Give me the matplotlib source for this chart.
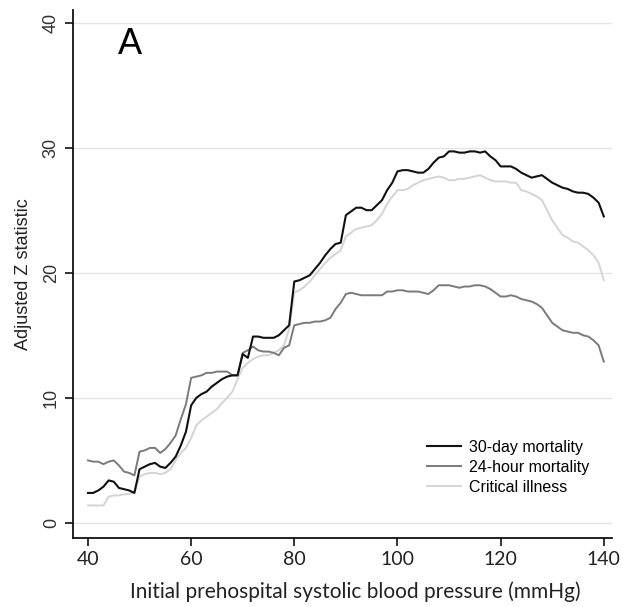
import numpy as np
import matplotlib
matplotlib.use("Agg")
import matplotlib.pyplot as plt

# systolic blood pressure grid (mmHg)
sbp = np.arange(40, 141)

mort_30d = [2.4, 2.4, 2.6, 2.9, 3.4, 3.3, 2.8, 2.7, 2.6, 2.4,
            4.3, 4.5, 4.7, 4.8, 4.5, 4.4, 4.8, 5.3, 6.2, 7.3,
            9.4, 10.0, 10.3, 10.5, 10.9, 11.2, 11.5, 11.7, 11.8, 11.8,
            13.5, 13.2, 14.9, 14.9, 14.8, 14.8, 14.8, 15.0, 15.4, 15.8,
            19.3, 19.4, 19.6, 19.8, 20.3, 20.8, 21.4, 21.9, 22.3, 22.4,
            24.6, 24.9, 25.2, 25.2, 25.0, 25.0, 25.4, 25.8, 26.6, 27.2,
            28.1, 28.2, 28.2, 28.1, 28.0, 28.0, 28.3, 28.8, 29.2, 29.3,
            29.7, 29.7, 29.6, 29.6, 29.7, 29.7, 29.6, 29.7, 29.3, 29.0,
            28.5, 28.5, 28.5, 28.3, 28.0, 27.8, 27.6, 27.7, 27.8, 27.5,
            27.2, 27.0, 26.8, 26.7, 26.5, 26.4, 26.4, 26.3, 26.0, 25.6,
            24.5]

mort_24h = [5.0, 4.9, 4.9, 4.7, 4.9, 5.0, 4.6, 4.1, 4.0, 3.8,
            5.7, 5.8, 6.0, 6.0, 5.6, 5.9, 6.4, 7.0, 8.3, 9.5,
            11.6, 11.7, 11.8, 12.0, 12.0, 12.1, 12.1, 12.1, 11.8, 11.8,
            13.6, 13.8, 14.1, 13.8, 13.7, 13.7, 13.6, 13.4, 14.0, 14.2,
            15.8, 15.9, 16.0, 16.0, 16.1, 16.1, 16.2, 16.4, 17.1, 17.6,
            18.3, 18.4, 18.3, 18.2, 18.2, 18.2, 18.2, 18.2, 18.5, 18.5,
            18.6, 18.6, 18.5, 18.5, 18.5, 18.4, 18.3, 18.6, 19.0, 19.0,
            19.0, 18.9, 18.8, 18.9, 18.9, 19.0, 19.0, 18.9, 18.7, 18.4,
            18.1, 18.1, 18.2, 18.1, 17.9, 17.8, 17.7, 17.5, 17.2, 16.6,
            16.0, 15.7, 15.4, 15.3, 15.2, 15.2, 15.0, 14.9, 14.6, 14.2,
            12.9]

critical = [1.4, 1.4, 1.4, 1.4, 2.1, 2.2, 2.2, 2.3, 2.3, 2.5,
            3.7, 3.9, 4.0, 4.0, 3.9, 4.0, 4.3, 5.0, 5.6, 6.0,
            6.8, 7.8, 8.2, 8.5, 8.8, 9.1, 9.6, 10.0, 10.5, 11.5,
            12.4, 12.8, 13.1, 13.3, 13.4, 13.4, 13.6, 13.8, 14.2, 15.5,
            18.4, 18.6, 18.9, 19.3, 19.8, 20.3, 20.8, 21.2, 21.5, 21.8,
            22.9, 23.2, 23.5, 23.6, 23.7, 23.8, 24.2, 24.7, 25.5, 26.1,
            26.6, 26.6, 26.7, 27.0, 27.2, 27.4, 27.5, 27.6, 27.7, 27.6,
            27.4, 27.4, 27.5, 27.5, 27.6, 27.7, 27.8, 27.6, 27.4, 27.3,
            27.3, 27.3, 27.2, 27.2, 26.6, 26.5, 26.3, 26.1, 25.8, 25.0,
            24.2, 23.6, 23.0, 22.8, 22.5, 22.4, 22.1, 21.8, 21.4, 20.8,
            19.4]

xticks = [40, 60, 80, 100, 120, 140]
yticks = [0, 10, 20, 30, 40]

fig = plt.figure(figsize=(6.23, 6.07), dpi=100)
ax = fig.add_axes([0.1172, 0.1137, 0.8652, 0.8698])

ax.plot(sbp, critical, color="#d4d4d4", lw=1.4, label="Critical illness", zorder=2)
ax.plot(sbp, mort_24h, color="#7a7a7a", lw=1.4, label="24-hour mortality", zorder=3)
ax.plot(sbp, mort_30d, color="#111111", lw=1.5, label="30-day mortality", zorder=4)

ax.set_xlim(37.1, 141.6)
ax.set_ylim(-1.2, 41.0)
ax.set_yticks(yticks)
ax.set_xticks(xticks)
ax.grid(axis="y", color="#e4e4e4", lw=1.0, zorder=0)

for s in ["top", "right"]:
    ax.spines[s].set_visible(False)
for s in ["left", "bottom"]:
    ax.spines[s].set_linewidth(1.3)
    ax.spines[s].set_color("#111111")

ax.tick_params(axis="both", direction="out", length=6, width=1.2, color="#111111")
ax.set_yticklabels([str(v) for v in yticks], rotation=90, va="center",
                   family="Liberation Sans", fontsize=13, color="#333333")
ax.set_xticklabels([str(v) for v in xticks], family="Lato", fontsize=14,
                   color="#222222")

ax.set_ylabel("Adjusted Z statistic", family="Liberation Sans", fontsize=13,
              color="#222222", labelpad=8)
ax.set_xlabel("Initial prehospital systolic blood pressure (mmHg)", family="Lato",
              fontsize=15, color="#222222", labelpad=10)
ax.xaxis.set_label_coords(0.524, -0.083)

ax.text(0.105, 0.935, "A", transform=ax.transAxes, family="Liberation Sans",
        fontsize=26, ha="center", va="center")

handles, labels = ax.get_legend_handles_labels()
ax.legend(handles[::-1], labels[::-1], loc="lower right", bbox_to_anchor=(0.984, 0.055),
          frameon=False, prop={"family": "Liberation Sans", "size": 11.5},
          handlelength=2.1, handletextpad=0.5, labelspacing=0.3)

fig.savefig("out.png", dpi=100)
